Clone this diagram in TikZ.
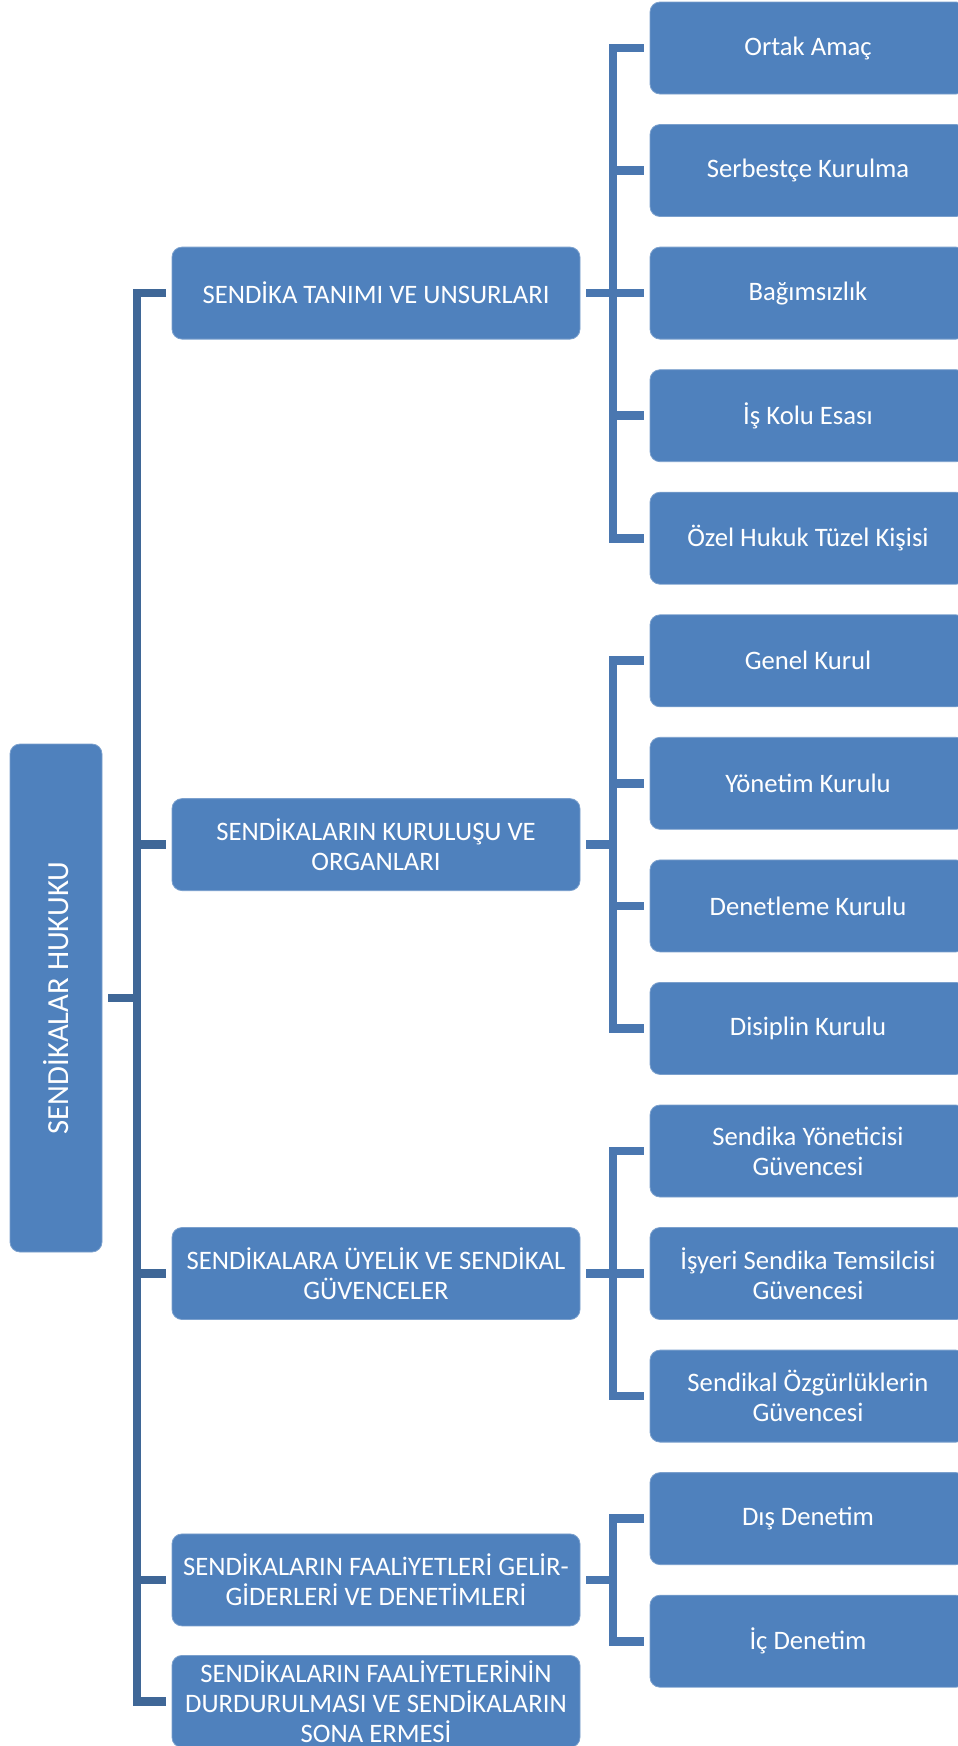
\documentclass[tikz,border=0pt]{standalone}
\usepackage{fontspec}
\setmainfont{Carlito}
\usepackage{xcolor}
\usepackage{tikz}
\usetikzlibrary{calc,positioning}

\definecolor{boxblue}{HTML}{4F81BD}
\definecolor{edgeblue}{HTML}{7BA0CD}
\definecolor{spineblue}{HTML}{3F6797}
\definecolor{busblue}{HTML}{4A77B0}

\begin{document}
\begin{tikzpicture}[x=0.75pt, y=-0.75pt,
    box/.style={draw=edgeblue, line width=0.6pt, fill=boxblue, rounded corners=7.5pt,
        text=white, align=center, inner sep=0pt, outer sep=4.5pt,
        font=\fontsize{20}{22.5}\selectfont},
    topbox/.style={box, minimum width=306pt, minimum height=69pt},
    subbox/.style={box, minimum width=237pt, minimum height=69pt},
    spineline/.style={draw=spineblue, line width=6.5pt},
    busline/.style={draw=busblue, line width=6.5pt}]

\useasboundingbox (0,0) rectangle (957,1746);

% Root
\node[box, minimum width=69pt, minimum height=381pt, font=\fontsize{23}{27}\selectfont] (root) at (56,998)
    {\rotatebox{90}{SENDİKALAR HUKUKU}};

% Vertical lines of the tree
\coordinate (spine) at (137,0);
\coordinate (bus) at (613,0);

% Main topics
\node[topbox] (tanim) at (376,293.1) {SENDİKA TANIMI VE UNSURLARI};
\node[topbox] (kurulus) at (376,844.6) {SENDİKALARIN KURULUŞU VE\\ORGANLARI};
\node[topbox] (uyelik) at (376,1273.5) {SENDİKALARA ÜYELİK VE SENDİKAL\\GÜVENCELER};
\node[topbox] (faaliyet) at (376,1579.9) {SENDİKALARIN FAALiYETLERİ GELİR-\\GİDERLERİ VE DENETİMLERİ};
\node[topbox] (sona) at (376,1701.4) {SENDİKALARIN FAALİYETLERİNİN\\DURDURULMASI VE SENDİKALARIN\\SONA ERMESİ};

% Sub topics: tanim
\node[subbox] (amac) at (808,48.0) {Ortak Amaç};
\node[subbox] (serbest) at (808,170.5) {Serbestçe Kurulma};
\node[subbox] (bagimsiz) at (808,293.1) {Bağımsızlık};
\node[subbox] (iskolu) at (808,415.7) {İş Kolu Esası};
\node[subbox] (ozel) at (808,538.2) {Özel Hukuk Tüzel Kişisi};

% Sub topics: kurulus
\node[subbox] (genel) at (808,660.8) {Genel Kurul};
\node[subbox] (yonetim) at (808,783.3) {Yönetim Kurulu};
\node[subbox] (denetleme) at (808,905.9) {Denetleme Kurulu};
\node[subbox] (disiplin) at (808,1028.4) {Disiplin Kurulu};

% Sub topics: uyelik
\node[subbox] (yonetici) at (808,1151.0) {Sendika Yöneticisi\\Güvencesi};
\node[subbox] (temsilci) at (808,1273.5) {İşyeri Sendika Temsilcisi\\Güvencesi};
\node[subbox] (ozgurluk) at (808,1396.1) {Sendikal Özgürlüklerin\\Güvencesi};

% Sub topics: faaliyet
\node[subbox] (dis) at (808,1518.6) {Dış Denetim};
\node[subbox] (ic) at (808,1641.2) {İç Denetim};

% Connectors from the root
\foreach \t in {tanim,kurulus,uyelik,faaliyet,sona}
    \draw[spineline] (root.east) -- (root.east -| spine) |- (\t.west);

% Connectors to the sub topics
\foreach \p/\c in {tanim/amac,tanim/serbest,tanim/bagimsiz,tanim/iskolu,tanim/ozel,
    kurulus/genel,kurulus/yonetim,kurulus/denetleme,kurulus/disiplin,
    uyelik/yonetici,uyelik/temsilci,uyelik/ozgurluk,
    faaliyet/dis,faaliyet/ic}
    \draw[busline] (\p.east) -- (\p.east -| bus) |- (\c.west);

\end{tikzpicture}
\end{document}
